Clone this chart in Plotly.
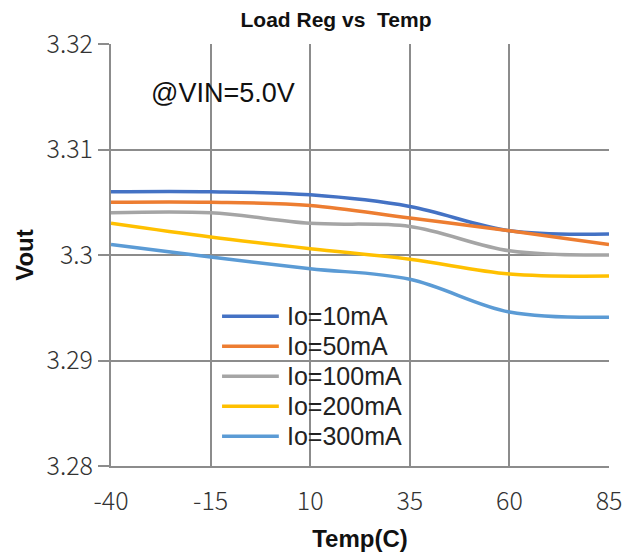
"""
Load Reg vs Temp 折线图
"""

import plotly.graph_objects as go

# 数据
temps = [-40, -15, 10, 35, 60, 85]
vout_10ma = [3.3060, 3.3060, 3.3057, 3.3046, 3.3023, 3.3020]
vout_50ma = [3.3050, 3.3050, 3.3047, 3.3035, 3.3023, 3.3010]
vout_100ma = [3.3040, 3.3040, 3.3030, 3.3027, 3.3004, 3.3000]
vout_200ma = [3.3030, 3.3017, 3.3006, 3.2996, 3.2982, 3.2980]
vout_300ma = [3.3010, 3.2998, 3.2987, 3.2977, 3.2946, 3.2941]

series_names = ["Io=10mA", "Io=50mA", "Io=100mA", "Io=200mA", "Io=300mA"]
series_values = [vout_10ma, vout_50ma, vout_100ma, vout_200ma, vout_300ma]
colors = ["#4472C4", "#ED7D31", "#A5A5A5", "#FFC000", "#5B9BD5"]

x_ticks = [-40, -15, 10, 35, 60, 85]
x_tick_text = ["-40", "-15", "10", "35", "60", "85"]
y_ticks = [3.28, 3.29, 3.30, 3.31, 3.32]
y_tick_text = ["3.28", "3.29", "3.3", "3.31", "3.32"]

CJK = "Noto Sans CJK SC"
SANS = "Liberation Sans, Arial"
GRID = "#8C8C8C"

# 页面 body 默认有 8px 边距, 图整体缩小 8px 以对齐
W, H = 627, 549

fig = go.Figure()

for name, vals, color in zip(series_names, series_values, colors):
    fig.add_trace(
        go.Scatter(
            x=temps,
            y=vals,
            mode="lines",
            name=name,
            line=dict(color=color, width=3.5, shape="spline", smoothing=1.0),
        )
    )

# 手动图例 (线段更长, 与原图一致)
for i, (name, color) in enumerate(zip(series_names, colors)):
    y = 0.355 - i * 0.0711
    fig.add_shape(
        type="line",
        xref="paper",
        yref="paper",
        x0=0.223,
        x1=0.337,
        y0=y,
        y1=y,
        line=dict(color=color, width=3.5),
    )
    fig.add_annotation(
        x=0.351,
        y=y,
        xref="paper",
        yref="paper",
        text=name,
        showarrow=False,
        xanchor="left",
        yanchor="middle",
        borderpad=0,
        font=dict(family=SANS, size=25, color="#222222"),
    )

fig.add_annotation(
    x=-11.8,
    y=3.3154,
    text="@VIN=5.0V",
    showarrow=False,
    font=dict(family=SANS, size=27, color="#111111"),
)

fig.update_layout(
    width=W,
    height=H,
    margin=dict(l=103, r=26, t=36, b=91),
    paper_bgcolor="white",
    plot_bgcolor="white",
    showlegend=False,
    title=dict(
        text="<b>Load Reg vs  Temp</b>",
        x=328 / W,
        xanchor="center",
        y=1 - 12 / H,
        yanchor="middle",
        font=dict(family=SANS, size=21, color="#111111"),
    ),
)

fig.update_xaxes(
    range=[-40, 85],
    tickvals=x_ticks,
    ticktext=x_tick_text,
    automargin=False,
    showgrid=True,
    gridcolor=GRID,
    gridwidth=2,
    zeroline=False,
    showline=True,
    linecolor=GRID,
    linewidth=2,
    ticks="",
    ticklabelstandoff=12,
    tickfont=dict(family=CJK, size=25, color="#333333", weight=300),
    title=dict(
        text="<b>Temp(C)</b>",
        font=dict(family=SANS, size=24, color="#111111"),
        standoff=14,
    ),
)

fig.update_yaxes(
    range=[3.28, 3.32],
    tickvals=y_ticks,
    ticktext=y_tick_text,
    automargin=False,
    showgrid=True,
    gridcolor=GRID,
    gridwidth=2,
    zeroline=False,
    showline=True,
    linecolor=GRID,
    linewidth=2,
    ticks="outside",
    ticklen=11,
    tickwidth=2,
    tickcolor=GRID,
    tickfont=dict(family=CJK, size=25, color="#333333", weight=300),
    title=dict(
        text="<b>Vout</b>",
        font=dict(family=SANS, size=24, color="#111111"),
        standoff=6,
    ),
)

fig.write_html("out.html")
